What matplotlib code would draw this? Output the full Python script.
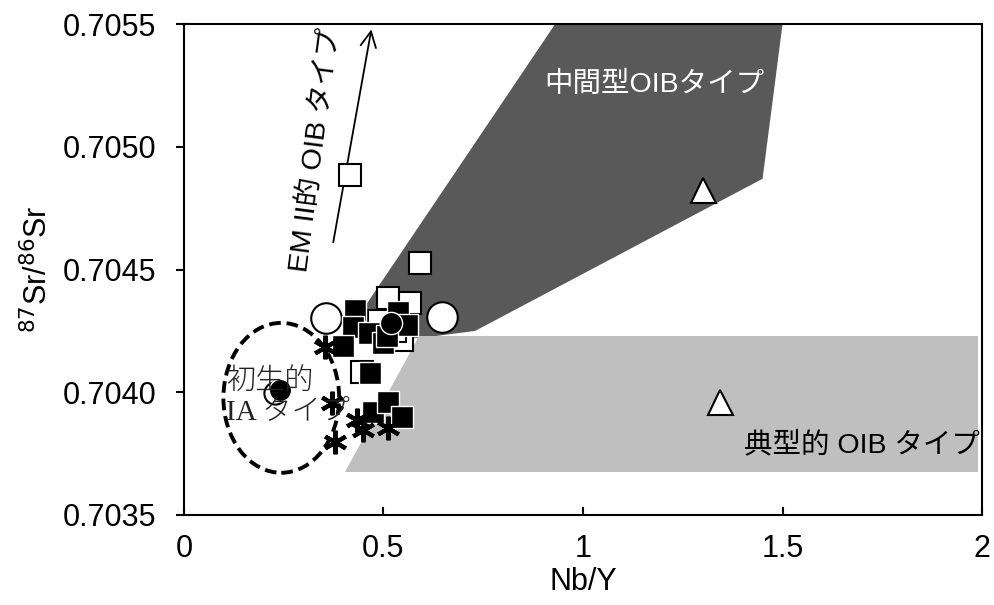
import matplotlib.pyplot as plt
from matplotlib.patches import Polygon, Ellipse
import numpy as np

plt.rcParams['font.family'] = ['Liberation Sans', 'Noto Sans CJK JP', 'DejaVu Sans']

# field polygons (Nb/Y, 87Sr/86Sr)
inter_x = [0.40, 0.59, 0.73, 1.45, 1.50, 0.93]
inter_y = [0.70422, 0.70422, 0.70425, 0.70487, 0.7055, 0.7055]
typical_x = [0.59, 1.99, 1.99, 0.403]
typical_y = [0.70423, 0.70423, 0.703675, 0.703675]

# data points
open_sq_x = [0.416, 0.591, 0.511, 0.566, 0.546, 0.446, 0.49, 0.53]
open_sq_y = [0.704885, 0.704527, 0.704384, 0.704364, 0.704213, 0.704083, 0.70429, 0.70425]
fill_sq_x = [0.429, 0.424, 0.464, 0.398, 0.536, 0.559, 0.499, 0.466, 0.474, 0.511, 0.546, 0.51]
fill_sq_y = [0.704335, 0.704266, 0.704241, 0.704188, 0.704327, 0.704274, 0.704201, 0.704079,
             0.703920, 0.703960, 0.703899, 0.70423]
big_ci_x = [0.355, 0.647]
big_ci_y = [0.704302, 0.704307]
small_ci_x = [0.228]
small_ci_y = [0.703997]
fill_ci_x = [0.519, 0.24]
fill_ci_y = [0.704282, 0.704009]
star_x = [0.353, 0.371, 0.434, 0.449, 0.378, 0.511]
star_y = [0.704184, 0.703956, 0.703887, 0.703846, 0.703797, 0.703855]
tri_x = [1.30, 1.343]
tri_y = [0.704824, 0.703960]

fig = plt.figure(figsize=(9.94, 6.05), dpi=100)
ax = fig.add_axes([0.185, 0.149, 0.803, 0.811])

ax.add_patch(Polygon(np.column_stack([inter_x, inter_y]), closed=True, fc='#595959', ec='none', zorder=1))
ax.add_patch(Polygon(np.column_stack([typical_x, typical_y]), closed=True, fc='#bfbfbf', ec='none', zorder=1))
ax.add_patch(Ellipse((0.244, 0.703977), 0.29, 0.000611, fill=False, ec='black', lw=2.8,
                     ls=(0, (3, 1.5)), zorder=2))

# EM II arrow
ax.annotate('', xy=(0.471, 0.70549), xytext=(0.373, 0.70460),
            arrowprops=dict(arrowstyle='->', color='black', lw=1.3, mutation_scale=28), zorder=3)

ax.plot(big_ci_x, big_ci_y, 'o', ms=22, mfc='white', mec='black', mew=1.5, ls='none', zorder=4)
ax.plot(small_ci_x, small_ci_y, 'o', ms=16, mfc='white', mec='black', mew=1.5, ls='none', zorder=4)
ax.plot(open_sq_x, open_sq_y, 's', ms=16, mfc='white', mec='black', mew=1.5, ls='none', zorder=5)
ax.plot(fill_sq_x, fill_sq_y, 's', ms=15.5, mfc='black', mec='white', mew=1.0, ls='none', zorder=6)
ax.plot(fill_ci_x, fill_ci_y, 'o', ms=16, mfc='black', mec='white', mew=1.0, ls='none', zorder=7)
ax.plot(star_x, star_y, marker=(6, 2, 0), ms=17, mec='black', mew=3, ls='none', zorder=7)
ax.plot(tri_x, tri_y, '^', ms=18, mfc='white', mec='black', mew=1.5, ls='none', zorder=7)

ax.text(1.18, 0.705252, '中間型OIBタイプ', color='white', fontsize=20.5, ha='center', va='center', zorder=8)
ax.text(1.70, 0.703785, '典型的 OIB タイプ', color='black', fontsize=20.5, ha='center', va='center', zorder=8)
ax.text(0.331, 0.704987, 'EM II的 OIB タイプ', color='black', fontsize=20.5, ha='center', va='center',
        rotation=82.6, rotation_mode='anchor', zorder=8)
ax.text(0.105, 0.704046, '初生的', color='#222222', fontsize=21, ha='left', va='center', zorder=8,
        family=['Noto Sans CJK JP'], fontweight='light')
ax.text(0.105, 0.703920, 'IA タイプ', color='#222222', fontsize=21, ha='left', va='center', zorder=8,
        family=['Liberation Serif', 'Noto Sans CJK JP'], fontweight='light')

ax.set_xlim(0, 2)
ax.set_ylim(0.7035, 0.7055)
ax.set_xticks([0, 0.5, 1, 1.5, 2])
ax.set_xticklabels(['0', '0.5', '1', '1.5', '2'])
ax.set_yticks([0.7035, 0.7040, 0.7045, 0.7050, 0.7055])
ax.set_yticklabels(['0.7035', '0.7040', '0.7045', '0.7050', '0.7055'])
ax.tick_params(axis='x', labelsize=22, direction='in', length=6, width=1.5, pad=14)
ax.tick_params(axis='y', labelsize=22, direction='out', length=6, width=1.5, pad=14)
for s in ax.spines.values():
    s.set_linewidth(1.5)
ax.set_xlabel('Nb/Y', fontsize=22, labelpad=2)
ax.set_ylabel(r'$^{87}$Sr/$^{86}$Sr', fontsize=22, labelpad=6)

fig.savefig('out.png', dpi=100)
